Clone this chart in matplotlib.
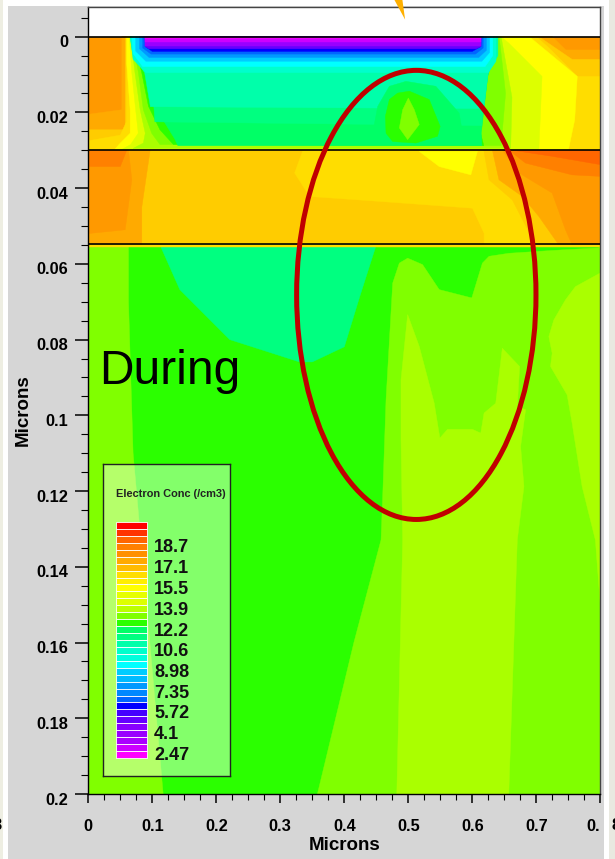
import numpy as np
import matplotlib
matplotlib.use('Agg')
import matplotlib.pyplot as plt
from matplotlib.patches import Polygon, Rectangle, Ellipse
from matplotlib.transforms import ScaledTranslation

plt.rcParams['font.family'] = ['Liberation Sans', 'DejaVu Sans']
plt.rcParams['hatch.color'] = 'white'
plt.rcParams['hatch.linewidth'] = 0.5

W, H = 615, 859

# contour regions, (x, depth) in microns, painted in order
top_layer = [
    ('#ff9900', [(0, 0), (0.8, 0), (0.8, 0.03), (0, 0.03)]),
    ('#ffaa00', [(0.0524, 0), (0.0524, 0.0193), (0, 0.0205), (0, 0.03), (0.8, 0.03), (0.8, 0.0035), (0.746, 0.0035), (0.725, 0)]),
    ('#ffcc00', [(0.0576, 0), (0.0576, 0.0246), (0, 0.0246), (0, 0.03), (0.8, 0.03), (0.8, 0.006), (0.756, 0.006), (0.704, 0)]),
    ('#ffdd00', [(0.0595, 0), (0.0595, 0.0225), (0.05, 0.026), (0, 0.0275), (0, 0.03), (0.8, 0.03), (0.8, 0.0105), (0.764, 0.0105), (0.72, 0.003), (0.70, 0)]),
    ('#ffff00', [(0.06, 0), (0.06, 0.007), (0.0654, 0.0193), (0.0654, 0.0255), (0.05, 0.0281), (0.04, 0.03), (0.75, 0.03), (0.76, 0.022), (0.764, 0.0105), (0.689, 0)]),
    ('#ddff00', [(0.064, 0), (0.068, 0.0096), (0.074, 0.0193), (0.078, 0.0255), (0.066, 0.0285), (0.05, 0.03), (0.704, 0.03), (0.709, 0.0105), (0.657, 0.0017), (0.645, 0)]),
    ('#aaff00', [(0.066, 0), (0.073, 0.0096), (0.081, 0.0193), (0.089, 0.0255), (0.086, 0.0281), (0.07, 0.0295), (0.66, 0.0295), (0.662, 0.016), (0.645, 0)]),
    ('#80ff00', [(0.068, 0), (0.0784, 0.0096), (0.086, 0.0193), (0.099, 0.0255), (0.112, 0.0285), (0.645, 0.0288), (0.652, 0.015), (0.642, 0)]),
    ('#2bff00', [(0.07, 0), (0.0836, 0.0096), (0.094, 0.0184), (0.112, 0.0246), (0.133, 0.0285), (0.618, 0.0288), (0.613, 0.0255), (0.624, 0.0105), (0.64, 0)]),
    ('#00ff66', [(0.0654, 0), (0.0992, 0.0105), (0.107, 0.0193), (0.135, 0.027), (0.14, 0.0288), (0.615, 0.0288), (0.614, 0.0255), (0.624, 0.0105), (0.64, 0)]),
    ('#00ff80', [(0.0654, 0), (0.0992, 0.0105), (0.104, 0.0225), (0.615, 0.0235), (0.62, 0.0105), (0.64, 0)]),
    ('#00ffaa', [(0.0654, 0), (0.07, 0.005), (0.088, 0.0095), (0.097, 0.0185), (0.618, 0.019), (0.625, 0.0095), (0.64, 0.005), (0.64, 0)]),
    ('#00ffcc', [(0.0654, 0), (0.07, 0.006), (0.09, 0.0095), (0.625, 0.0095), (0.637, 0.0065), (0.637, 0)]),
    ('#00ffff', [(0.068, 0), (0.07, 0.0045), (0.085, 0.0079), (0.62, 0.0079), (0.632, 0.005), (0.632, 0)]),
    ('#00ccff', [(0.074, 0), (0.074, 0.0038), (0.09, 0.0065), (0.615, 0.0065), (0.627, 0.0042), (0.627, 0)]),
    ('#0099ff', [(0.08, 0), (0.08, 0.0032), (0.095, 0.0055), (0.61, 0.0055), (0.622, 0.0036), (0.622, 0)]),
    ('#0066ff', [(0.085, 0), (0.085, 0.003), (0.098, 0.0046), (0.605, 0.0046), (0.617, 0.003), (0.617, 0)]),
    ('#0000ff', [(0.0888, 0), (0.0888, 0.0026), (0.1, 0.0039), (0.6, 0.0039), (0.6135, 0.0026), (0.6135, 0)]),
    ('#6600ff', [(0.0888, 0), (0.0888, 0.0026), (0.095, 0.0032), (0.606, 0.0032), (0.6135, 0.0026), (0.6135, 0)]),
    ('#9900ff', [(0.0888, 0), (0.0888, 0.0024), (0.6135, 0.0024), (0.6135, 0)]),
    ('#cc00ff', [(0.0888, 0), (0.0888, 0.0014), (0.6135, 0.0014), (0.6135, 0)]),
    ('#ee00ff', [(0.0888, 0), (0.0888, 0.0006), (0.6135, 0.0006), (0.6135, 0)]),
]

blob_layer = [
    ('#00ff66', [(0.4964, 0.0118), (0.543, 0.0131), (0.5795, 0.0202), (0.5847, 0.0254), (0.5691, 0.0285), (0.4496, 0.0285), (0.4444, 0.0254), (0.4522, 0.0184), (0.4704, 0.0131)]),
    ('#2bff00', [(0.4834, 0.0149), (0.5016, 0.0144), (0.5327, 0.0166), (0.5498, 0.0237), (0.5457, 0.0263), (0.5119, 0.0281), (0.4756, 0.0277), (0.4652, 0.0255), (0.4642, 0.021), (0.4704, 0.0166)]),
    ('#80ff00', [(0.5, 0.0162), (0.5094, 0.0193), (0.5171, 0.0232), (0.499, 0.0272), (0.486, 0.0241), (0.4912, 0.0193)]),
]

middle_layer = [
    ('#ffcc00', [(0, 0.03), (0.8, 0.03), (0.8, 0.055), (0, 0.055)]),
    ('#ffaa00', [(0, 0.03), (0.0966, 0.03), (0.0836, 0.045), (0.0836, 0.055), (0, 0.055)]),
    ('#ff9900', [(0, 0.03), (0.0628, 0.03), (0.068, 0.0378), (0.0576, 0.051), (0, 0.052)]),
    ('#ff8000', [(0, 0.03), (0.06, 0.03), (0.05, 0.0343), (0, 0.0343)]),
    ('#ffdd00', [(0.3354, 0.03), (0.3224, 0.036), (0.3458, 0.0422), (0.4548, 0.0435), (0.6002, 0.0453), (0.6184, 0.0519), (0.6184, 0.055), (0.8, 0.055), (0.8, 0.03)]),
    ('#ffff00', [(0.5171, 0.0303), (0.5483, 0.0343), (0.5977, 0.0365), (0.608, 0.0303)]),
    ('#ffcc00', [(0.6179, 0.03), (0.6262, 0.0378), (0.6625, 0.0431), (0.6989, 0.055), (0.8, 0.055), (0.8, 0.03)]),
    ('#ffaa00', [(0.6314, 0.03), (0.6417, 0.0378), (0.6781, 0.0422), (0.7041, 0.0475), (0.7352, 0.055), (0.8, 0.055), (0.8, 0.03)]),
    ('#ff9900', [(0.6469, 0.03), (0.6729, 0.036), (0.7248, 0.0413), (0.7456, 0.051), (0.756, 0.055), (0.8, 0.055), (0.8, 0.03)]),
    ('#ff8000', [(0.6573, 0.03), (0.6833, 0.0334), (0.756, 0.0365), (0.8, 0.0369), (0.8, 0.03)]),
    ('#ff6600', [(0.6625, 0.03), (0.725, 0.0316), (0.8, 0.0338), (0.8, 0.03)]),
]

bottom_layer = [
    ('#2bff00', [(0, 0.055), (0.8, 0.055), (0.8, 0.2), (0, 0.2)]),
    ('#80ff00', [(0, 0.055), (0.0628, 0.055), (0.0628, 0.07), (0.07, 0.11), (0.117, 0.2), (0, 0.2)]),
    ('#00ff80', [(0.112, 0.055), (0.143, 0.0668), (0.221, 0.08), (0.33, 0.0859), (0.35, 0.0859), (0.4, 0.0819), (0.424, 0.0687), (0.4486, 0.0557), (0.4486, 0.055)]),
    ('#80ff00', [(0.358, 0.2), (0.415, 0.16), (0.4574, 0.1329), (0.46, 0.1214), (0.4652, 0.0959), (0.4756, 0.0651), (0.486, 0.0598), (0.499, 0.0585), (0.5223, 0.0602),
                 (0.5483, 0.0668), (0.5992, 0.069), (0.6158, 0.0598), (0.6262, 0.058), (0.6573, 0.0572), (0.7404, 0.0563), (0.7975, 0.0558), (0.8, 0.055), (0.8, 0.2)]),
    ('#aaff00', [(0.4912, 0.1329), (0.4886, 0.1065), (0.4886, 0.0906), (0.499, 0.0734), (0.5171, 0.0818), (0.5405, 0.0968), (0.5493, 0.106), (0.5613, 0.1037),
                 (0.6002, 0.1037), (0.6132, 0.1047), (0.6184, 0.0994), (0.6366, 0.0968), (0.6469, 0.0823), (0.6739, 0.0871), (0.6703, 0.0977), (0.6833, 0.0985),
                 (0.6755, 0.1082), (0.6807, 0.1188), (0.6703, 0.1329), (0.657, 0.2), (0.482, 0.2)]),
    ('#aaff00', [(0.8, 0.0624), (0.7612, 0.066), (0.7456, 0.0695), (0.7274, 0.0748), (0.7196, 0.0792), (0.7248, 0.0836), (0.7222, 0.0871), (0.7482, 0.0946),
                 (0.756, 0.1021), (0.7716, 0.1188), (0.7923, 0.1329), (0.8, 0.15)]),
    ('#ffdd00', [(0, 0.055), (0.8, 0.055), (0.8, 0.0556), (0, 0.0556)]),
]

layer_lines = [0, 0.0298, 0.0547]

x_ticks = [0, 0.1, 0.2, 0.3, 0.4, 0.5, 0.6, 0.7, 0.8]
x_labels = ['0', '0.1', '0.2', '0.3', '0.4', '0.5', '0.6', '0.7', '0.']
y_ticks = [0, 0.02, 0.04, 0.06, 0.08, 0.1, 0.12, 0.14, 0.16, 0.18, 0.2]
y_labels = ['0', '0.02', '0.04', '0.06', '0.08', '0.1', '0.12', '0.14', '0.16', '0.18', '0.2']

legend_labels = ['18.7', '17.1', '15.5', '13.9', '12.2', '10.6', '8.98', '7.35', '5.72', '4.1', '2.47']
legend_colors = ['#ff0000', '#ff3300', '#ff6600', '#ff8000', '#ff9000', '#ffaa00', '#ffbb00', '#ffdd00', '#ffee00',
                 '#ffff00', '#e6ff00', '#ddff00', '#bbff00', '#80ff00', '#2bff00', '#00ff66', '#00ff80', '#00ffaa',
                 '#00ffcc', '#00ffdd', '#00ffff', '#00ccff', '#00bbff', '#0099ff', '#0088ff', '#0066ff', '#0000ff',
                 '#4400ff', '#6600ff', '#8800ff', '#9900ff', '#aa00ff', '#cc00ff', '#ff00ff']


def box(left, top, right, bottom):
    # pixel box (y from the top) to figure fractions
    return [left / W, 1 - bottom / H, (right - left) / W, (bottom - top) / H]


fig = plt.figure(figsize=(W / 100, H / 100), dpi=100, facecolor='white')

# window frame around the plot
bg = fig.add_axes([0, 0, 1, 1], zorder=-1)
bg.set_xlim(0, W)
bg.set_ylim(H, 0)
bg.axis('off')
for l, r, col in [(0, 3, '#eeeee2'), (3, 8, '#ffffff'), (8, 604, '#d6d6d6'), (604, 609, '#ffffff'), (609, 615, '#e9e9e0')]:
    bg.add_patch(Rectangle((l, 0), r - l, H, color=col, lw=0))
bg.add_patch(Rectangle((3, 0), 606, 6, color='white', lw=0))

ax = fig.add_axes(box(88.3, 7.5, 600.3, 794))
ax.set_xlim(0, 0.8)
ax.set_ylim(0.2, -0.0077)
ax.set_facecolor('white')

for layer in (top_layer, blob_layer, middle_layer, bottom_layer):
    for col, pts in layer:
        ax.add_patch(Polygon(pts, closed=True, facecolor=col, edgecolor=col, lw=0.3))

for y in layer_lines:
    ax.axhline(y, color='black', lw=1.2, zorder=5)

# arrow tip sticking in from above
ax.add_patch(Polygon([(0.478, -0.0098), (0.4907, -0.0098), (0.495, -0.0045)], facecolor='#ffb000', lw=0, clip_on=False, zorder=6))

ax.add_patch(Ellipse((0.5125, 0.0682), 0.374, 0.1186, fill=False, edgecolor='#c00000', lw=3.6, zorder=7))
ax.text(0.0165, 0.0885, 'During', fontsize=34.5, color='black', va='center', ha='left', zorder=7)

ax.set_xticks(x_ticks)
ax.set_xticklabels(x_labels, fontsize=11.8, fontweight='bold')
ax.xaxis.get_ticklabels()[-1].set_ha('right')
ax.set_xticks(np.arange(0, 0.8001, 0.025), minor=True)
ax.set_yticks(y_ticks)
ax.set_yticklabels(y_labels, fontsize=11.8, fontweight='bold')
ax.set_yticks(np.arange(-0.005, 0.2001, 0.005), minor=True)
ax.tick_params(axis='x', which='major', length=6.5, width=1.1, pad=11.5)
ax.tick_params(axis='x', which='minor', length=4.3, width=0.8)
ax.tick_params(axis='y', which='major', length=9.4, width=1.1, pad=5)
ax.tick_params(axis='y', which='minor', length=4.7, width=0.8)
# y labels sit a little under their ticks in the original
shift = ScaledTranslation(0, -4.5 / 100, fig.dpi_scale_trans)
for lab in ax.yaxis.get_ticklabels():
    lab.set_transform(lab.get_transform() + shift)
for s in ax.spines.values():
    s.set_linewidth(1)
    s.set_color('#444444')
ax.spines['left'].set_color('black')
ax.spines['bottom'].set_color('black')

fig.text(345 / W, 1 - 846 / H, 'Microns', fontsize=13.5, fontweight='bold', ha='center', va='center')
fig.text(23 / W, 1 - 410 / H, 'Microns', fontsize=13.5, fontweight='bold', ha='center', va='center', rotation=90)

# bits of the neighbouring tick label, cut by the image edge
fig.text(-7 / W, 1 - 825 / H, '8', fontsize=11.8, fontweight='bold', va='center', ha='left')
fig.text(611 / W, 1 - 825 / H, '8', fontsize=11.8, fontweight='bold', va='center', ha='left')

# legend panel, stippled see-through
leg = fig.add_axes(box(103, 464, 230, 776), zorder=8)
leg.patch.set_alpha(0)
leg.set_xlim(103, 230)
leg.set_ylim(776, 464)
leg.set_xticks([])
leg.set_yticks([])
leg.add_patch(Rectangle((103, 464), 127, 312, facecolor=(1, 1, 1, 0.42), edgecolor='none', hatch='.....', lw=0))
for s in leg.spines.values():
    s.set_linewidth(1)
    s.set_color('#222222')
leg.text(171, 494, 'Electron Conc (/cm3)', fontsize=7.9, fontweight='bold', ha='center', va='center', color='#222222')
rows = np.linspace(522, 758, len(legend_colors) + 1)
leg.barh(rows[:-1], 31, height=np.diff(rows), left=116, align='edge', color=legend_colors, edgecolor='white', linewidth=0.6)
label_rows = np.linspace(548, 755.5, len(legend_labels))
for yy, t in zip(label_rows, legend_labels):
    leg.text(154, yy, t, fontsize=13, fontweight='bold', ha='left', va='center', color='#111111')

fig.savefig('out.png', dpi=100)
